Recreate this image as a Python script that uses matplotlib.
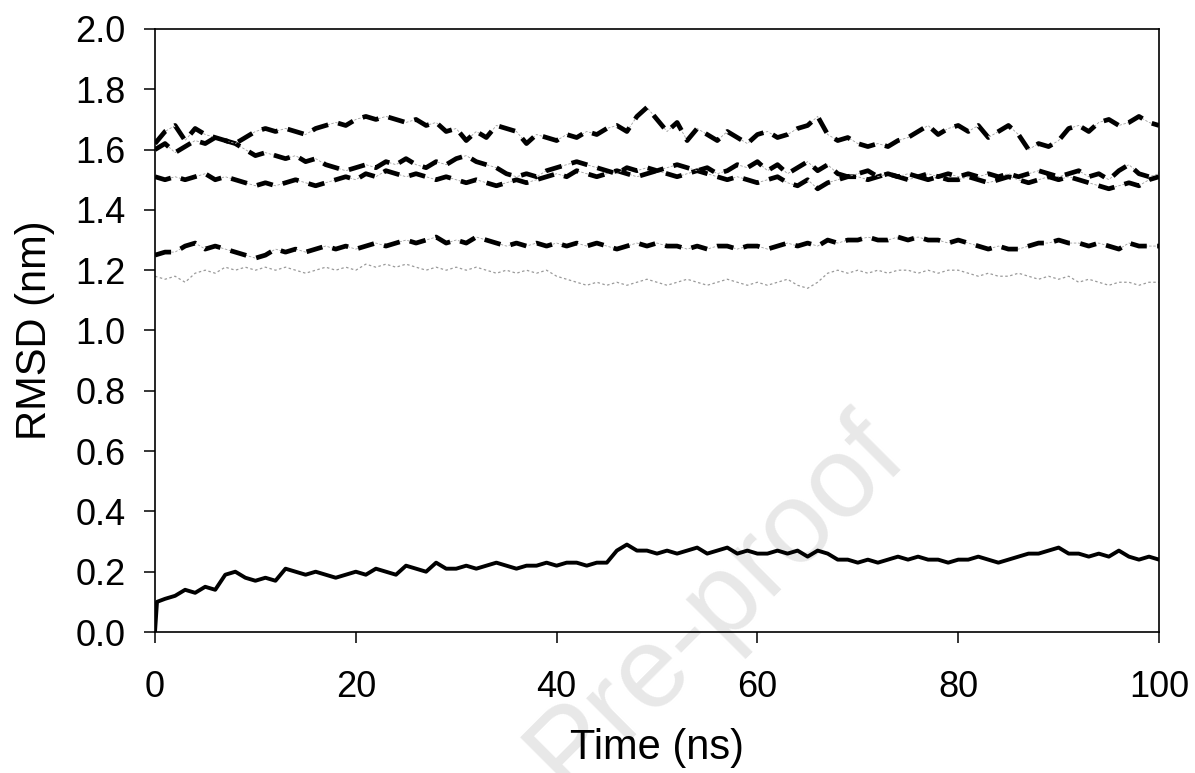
import numpy as np
import matplotlib
matplotlib.use("Agg")
import matplotlib.pyplot as plt

plt.rcParams['font.family'] = ['Liberation Sans', 'DejaVu Sans']

# ---- data ----
time_ns = np.arange(0, 101)
time_a = np.concatenate([[0.0, 0.2], np.arange(1, 101)])

rmsd_a = [0.00, 0.10,
          0.11, 0.12, 0.14, 0.13, 0.15, 0.14, 0.19, 0.20, 0.18, 0.17,
          0.18, 0.17, 0.21, 0.20, 0.19, 0.20, 0.19, 0.18, 0.19, 0.20,
          0.19, 0.21, 0.20, 0.19, 0.22, 0.21, 0.20, 0.23, 0.21, 0.21,
          0.22, 0.21, 0.22, 0.23, 0.22, 0.21, 0.22, 0.22, 0.23, 0.22,
          0.23, 0.23, 0.22, 0.23, 0.23, 0.27, 0.29, 0.27, 0.27, 0.26,
          0.27, 0.26, 0.27, 0.28, 0.26, 0.27, 0.28, 0.26, 0.27, 0.26,
          0.26, 0.27, 0.26, 0.27, 0.25, 0.27, 0.26, 0.24, 0.24, 0.23,
          0.24, 0.23, 0.24, 0.25, 0.24, 0.25, 0.24, 0.24, 0.23, 0.24,
          0.24, 0.25, 0.24, 0.23, 0.24, 0.25, 0.26, 0.26, 0.27, 0.28,
          0.26, 0.26, 0.25, 0.26, 0.25, 0.27, 0.25, 0.24, 0.25, 0.24]

rmsd_b = [1.25, 1.26, 1.26, 1.28, 1.29, 1.27, 1.28, 1.27, 1.26, 1.25, 1.24,
          1.25, 1.27, 1.26, 1.27, 1.26, 1.27, 1.28, 1.27, 1.28, 1.27,
          1.28, 1.29, 1.28, 1.29, 1.30, 1.29, 1.30, 1.31, 1.29, 1.30,
          1.29, 1.31, 1.30, 1.29, 1.28, 1.29, 1.28, 1.29, 1.28, 1.29,
          1.28, 1.29, 1.28, 1.29, 1.28, 1.27, 1.28, 1.29, 1.28, 1.29,
          1.28, 1.28, 1.27, 1.28, 1.27, 1.28, 1.28, 1.27, 1.28, 1.28,
          1.27, 1.28, 1.29, 1.28, 1.29, 1.28, 1.30, 1.29, 1.30, 1.30,
          1.31, 1.30, 1.30, 1.31, 1.30, 1.31, 1.30, 1.30, 1.29, 1.30,
          1.29, 1.28, 1.27, 1.28, 1.27, 1.27, 1.28, 1.29, 1.29, 1.30,
          1.29, 1.29, 1.28, 1.29, 1.28, 1.27, 1.29, 1.28, 1.28, 1.28]

rmsd_c = [1.51, 1.50, 1.51, 1.50, 1.51, 1.52, 1.50, 1.51, 1.50, 1.49, 1.48,
          1.49, 1.48, 1.49, 1.50, 1.49, 1.48, 1.49, 1.50, 1.51, 1.50,
          1.52, 1.51, 1.53, 1.52, 1.51, 1.52, 1.51, 1.50, 1.51, 1.50,
          1.49, 1.50, 1.49, 1.48, 1.49, 1.50, 1.49, 1.50, 1.51, 1.52,
          1.51, 1.53, 1.52, 1.51, 1.52, 1.53, 1.52, 1.51, 1.52, 1.53,
          1.52, 1.51, 1.52, 1.53, 1.52, 1.51, 1.50, 1.51, 1.50, 1.49,
          1.50, 1.51, 1.49, 1.48, 1.50, 1.47, 1.49, 1.50, 1.51, 1.51,
          1.50, 1.51, 1.52, 1.51, 1.50, 1.51, 1.50, 1.51, 1.50, 1.50,
          1.51, 1.50, 1.49, 1.50, 1.51, 1.50, 1.49, 1.50, 1.51, 1.50,
          1.51, 1.50, 1.49, 1.48, 1.47, 1.48, 1.49, 1.48, 1.50, 1.51]

rmsd_d = [1.60, 1.62, 1.59, 1.61, 1.63, 1.62, 1.64, 1.63, 1.62, 1.60, 1.58,
          1.59, 1.58, 1.57, 1.58, 1.56, 1.57, 1.55, 1.54, 1.53, 1.54,
          1.55, 1.54, 1.56, 1.55, 1.57, 1.55, 1.54, 1.56, 1.55, 1.57,
          1.58, 1.56, 1.55, 1.54, 1.52, 1.51, 1.52, 1.51, 1.53, 1.54,
          1.55, 1.56, 1.55, 1.54, 1.53, 1.52, 1.54, 1.53, 1.54, 1.53,
          1.54, 1.55, 1.54, 1.53, 1.54, 1.52, 1.53, 1.55, 1.54, 1.56,
          1.53, 1.55, 1.52, 1.54, 1.56, 1.53, 1.55, 1.52, 1.51, 1.52,
          1.53, 1.51, 1.52, 1.51, 1.52, 1.51, 1.52, 1.51, 1.52, 1.51,
          1.52, 1.51, 1.52, 1.51, 1.52, 1.51, 1.52, 1.53, 1.52, 1.51,
          1.52, 1.53, 1.51, 1.52, 1.50, 1.53, 1.55, 1.52, 1.51, 1.52]

rmsd_e = [1.62, 1.66, 1.68, 1.63, 1.67, 1.65, 1.64, 1.63, 1.62, 1.64, 1.66,
          1.67, 1.66, 1.67, 1.66, 1.65, 1.67, 1.68, 1.69, 1.68, 1.70,
          1.71, 1.70, 1.71, 1.70, 1.69, 1.70, 1.68, 1.69, 1.66, 1.67,
          1.63, 1.66, 1.64, 1.68, 1.67, 1.66, 1.62, 1.65, 1.64, 1.63,
          1.65, 1.64, 1.66, 1.65, 1.67, 1.68, 1.66, 1.71, 1.74, 1.70,
          1.66, 1.69, 1.63, 1.67, 1.65, 1.63, 1.66, 1.64, 1.62, 1.65,
          1.66, 1.64, 1.65, 1.67, 1.68, 1.71, 1.65, 1.63, 1.64, 1.62,
          1.61, 1.62, 1.61, 1.63, 1.64, 1.66, 1.68, 1.65, 1.67, 1.68,
          1.66, 1.68, 1.64, 1.66, 1.68, 1.65, 1.60, 1.62, 1.61, 1.63,
          1.67, 1.68, 1.66, 1.69, 1.70, 1.68, 1.69, 1.71, 1.69, 1.68]

rmsd_f = [1.18, 1.17, 1.18, 1.16, 1.19, 1.20, 1.19, 1.21, 1.20, 1.21, 1.20,
          1.21, 1.20, 1.21, 1.20, 1.19, 1.20, 1.21, 1.20, 1.21, 1.20,
          1.22, 1.21, 1.22, 1.21, 1.22, 1.21, 1.20, 1.21, 1.20, 1.21,
          1.20, 1.21, 1.20, 1.19, 1.20, 1.19, 1.20, 1.19, 1.20, 1.18,
          1.17, 1.16, 1.15, 1.16, 1.15, 1.16, 1.15, 1.16, 1.17, 1.16,
          1.15, 1.16, 1.17, 1.16, 1.15, 1.16, 1.17, 1.16, 1.15, 1.16,
          1.15, 1.16, 1.17, 1.15, 1.14, 1.16, 1.19, 1.20, 1.19, 1.20,
          1.19, 1.20, 1.19, 1.20, 1.20, 1.19, 1.20, 1.19, 1.20, 1.20,
          1.19, 1.18, 1.19, 1.18, 1.18, 1.19, 1.18, 1.17, 1.18, 1.17,
          1.18, 1.16, 1.17, 1.16, 1.15, 1.16, 1.16, 1.15, 1.16, 1.16]

x_ticks = [0, 20, 40, 60, 80, 100]
y_ticks = [0.0, 0.2, 0.4, 0.6, 0.8, 1.0, 1.2, 1.4, 1.6, 1.8, 2.0]

# ---- figure ----
fig = plt.figure(figsize=(11.95, 7.73), dpi=100)
ax = fig.add_axes([0.1297, 0.1824, 0.8402, 0.7801])
ax.set_facecolor('none')

# watermark (behind everything)
fig.text(0.600, 0.219, "Pre-proof", fontsize=83, color='#e8e8e8',
         rotation=45, ha='center', va='center', zorder=-5)

ax.plot(time_ns, rmsd_f, color='#9a9a9a', lw=0.9, ls=(0, (2, 2)))

for series in (rmsd_b, rmsd_c, rmsd_d, rmsd_e):
    ax.plot(time_ns, series, color='#a0a0a0', lw=0.6, ls=(0, (3, 2)))
    ax.plot(time_ns, series, color='black', lw=3.4, ls=(0, (3.5, 2.2)),
            solid_capstyle='butt', dash_capstyle='butt')

ax.plot(time_a, rmsd_a, color='black', lw=2.8)

ax.set_xlim(0, 100)
ax.set_ylim(0, 2.0)
ax.set_xticks(x_ticks)
ax.set_xticklabels([str(v) for v in x_ticks])
ax.set_yticks(y_ticks)
ax.set_yticklabels([f"{v:.1f}" for v in y_ticks])
ax.tick_params(axis='both', direction='out', length=8, width=1.1,
               labelsize=26)
ax.tick_params(axis='x', pad=19)
ax.tick_params(axis='y', pad=13)
for sp in ax.spines.values():
    sp.set_linewidth(1.2)

ax.set_xlabel("Time (ns)", fontsize=30, labelpad=17)
ax.set_ylabel("RMSD (nm)", fontsize=30, labelpad=15)

fig.savefig("out.png", dpi=100)
